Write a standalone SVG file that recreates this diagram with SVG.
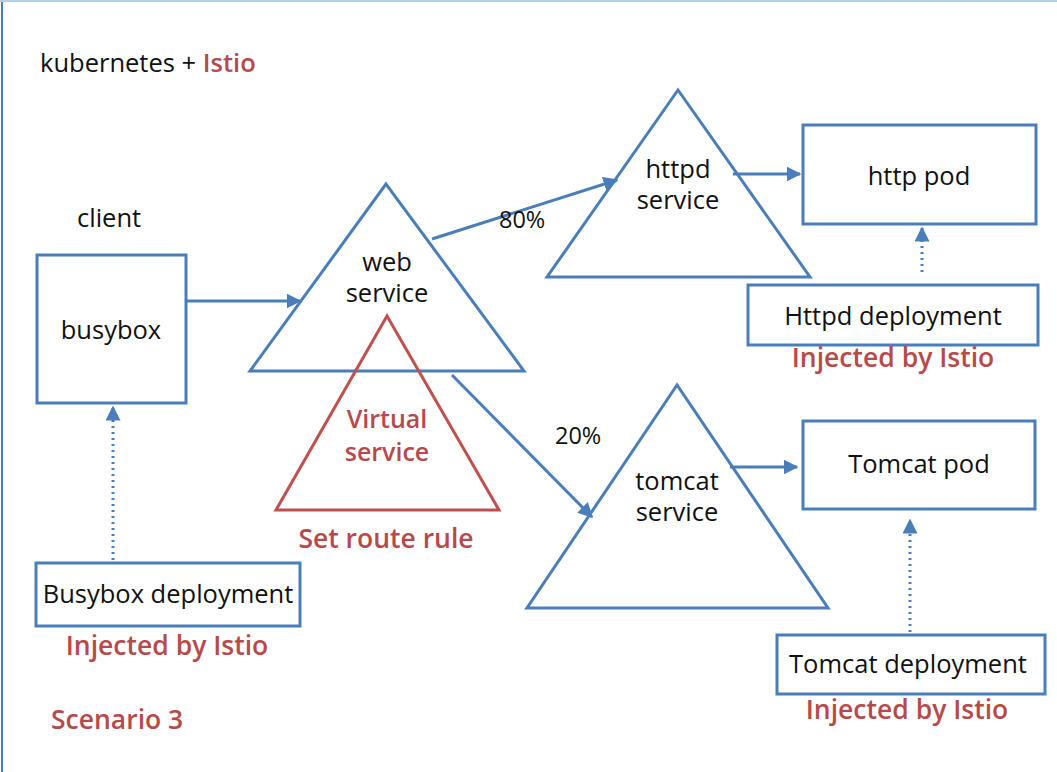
<svg xmlns="http://www.w3.org/2000/svg" width="1057" height="772" viewBox="0 0 1057 772">
<defs>
<style>
.shape{fill:#fff;stroke:#4a7ebb;stroke-width:3}
.vs{fill:none;stroke:#c0504d;stroke-width:3}
.conn{fill:none;stroke:#4a7ebb;stroke-width:3}
.dot{fill:none;stroke:#4a7ebb;stroke-width:3;stroke-dasharray:2 4}
text{font-family:"Open Sans","Liberation Sans",sans-serif;font-size:25.5px;fill:#111}
.c{text-anchor:middle}
.red{fill:#b8494a;font-weight:600;font-size:26.5px}
.vt{font-size:25px}
.pct{font-size:23.5px}
</style>
<marker id="ah" viewBox="0 0 10 10" refX="9" refY="5" markerWidth="5" markerHeight="5" orient="auto" markerUnits="strokeWidth">
<path d="M0,0 L10,5 L0,10 z" fill="#4a7ebb"/>
</marker>
</defs>
<rect width="1057" height="772" fill="#fff"/>
<line x1="2" y1="0" x2="2" y2="772" stroke="#4a7ebb" stroke-width="2"/>
<line x1="0" y1="1" x2="1057" y2="1" stroke="#b8cde6" stroke-width="2"/>

<g id="title">
<text x="40" y="72">kubernetes + <tspan style="fill:#b8494a;font-weight:600">Istio</tspan></text>
</g>
<g id="client-label"><text x="77" y="227">client</text></g>

<g id="busybox">
<rect class="shape" x="37" y="255" width="149" height="148"/>
<text class="c" x="111" y="339">busybox</text>
</g>

<g id="web-service">
<polygon class="shape" points="386,184 250,371 524,371"/>
<text class="c" x="387" y="271">web</text>
<text class="c" x="387" y="302">service</text>
</g>

<g id="virtual-service">
<polygon class="vs" points="387,316 276,510 499,510"/>
<text class="c red vt" x="387" y="428">Virtual</text>
<text class="c red vt" x="387" y="461">service</text>
<text class="c red" x="386" y="548">Set route rule</text>
</g>

<g id="httpd-service">
<polygon class="shape" points="678,90 547,277 810,277"/>
<text class="c" x="678" y="178">httpd</text>
<text class="c" x="678" y="209">service</text>
</g>

<g id="http-pod">
<rect class="shape" x="803" y="125" width="233" height="99"/>
<text class="c" x="919" y="185">http pod</text>
</g>

<g id="httpd-deployment">
<rect class="shape" x="748" y="285" width="290" height="60"/>
<text class="c" x="893" y="325">Httpd deployment</text>
<text class="c red" x="893" y="367">Injected by Istio</text>
</g>

<g id="tomcat-service">
<polygon class="shape" points="677,385 527,608 828,608"/>
<text class="c" x="677" y="490">tomcat</text>
<text class="c" x="677" y="521">service</text>
</g>

<g id="tomcat-pod">
<rect class="shape" x="803" y="421" width="232" height="88"/>
<text class="c" x="919" y="473">Tomcat pod</text>
</g>

<g id="tomcat-deployment">
<rect class="shape" x="777" y="635" width="268" height="59"/>
<text class="c" x="908" y="673">Tomcat deployment</text>
<text class="c red" x="907" y="719">Injected by Istio</text>
</g>

<g id="busybox-deployment">
<rect class="shape" x="36" y="563" width="264" height="63"/>
<text class="c" x="168" y="603">Busybox deployment</text>
<text class="c red" x="167" y="655">Injected by Istio</text>
</g>

<g id="scenario"><text class="red" x="51" y="729">Scenario 3</text></g>

<g id="connectors">
<line class="conn" x1="187" y1="301" x2="300" y2="301" marker-end="url(#ah)"/>
<line class="conn" x1="432" y1="239" x2="617" y2="180" marker-end="url(#ah)"/>
<line class="conn" x1="452" y1="375" x2="592" y2="517" marker-end="url(#ah)"/>
<line class="conn" x1="733" y1="174" x2="800" y2="174" marker-end="url(#ah)"/>
<line class="conn" x1="730" y1="467" x2="797" y2="467" marker-end="url(#ah)"/>
<line class="dot" x1="922" y1="272" x2="922" y2="228" marker-end="url(#ah)"/>
<line class="dot" x1="910" y1="632" x2="910" y2="520" marker-end="url(#ah)"/>
<line class="dot" x1="113" y1="560" x2="113" y2="407" marker-end="url(#ah)"/>
<text class="pct" x="499" y="228">80%</text>
<text class="pct" x="555" y="444">20%</text>
</g>
</svg>
